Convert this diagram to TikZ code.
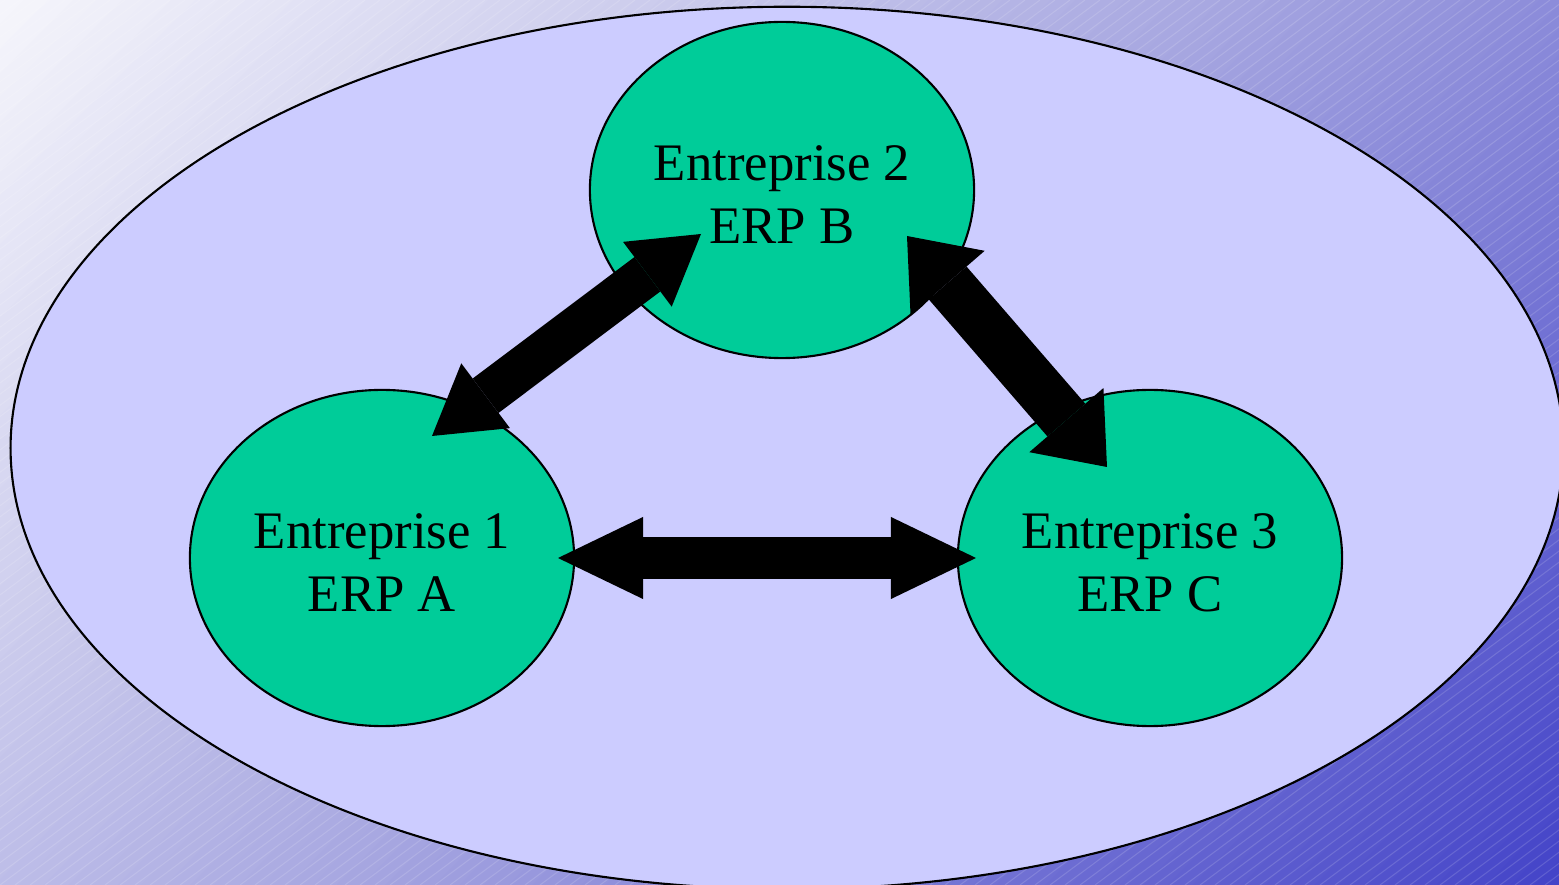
\documentclass[tikz,border=0pt]{standalone}
\usepackage{fontspec}
\setmainfont{Liberation Serif}
\usetikzlibrary{shapes.geometric, arrows.meta, calc}
\definecolor{lavender}{HTML}{CCCCFF}
\definecolor{erpgreen}{HTML}{00CC99}
\definecolor{bglight}{HTML}{F5F5FB}
\definecolor{bgmid}{HTML}{A6A6E0}
\definecolor{bgdark}{HTML}{4242C8}

\tikzset{
  firm/.style={ellipse, draw, line width=0.6pt, fill=erpgreen, minimum width=3.84cm, minimum height=3.36cm,
    inner sep=0pt, align=center, text height=30.7pt, font=\fontsize{15}{18}\selectfont},
  link/.style n args={3}{line width=#1,
    {Triangle[length=#2,width=#3,line width=0pt]}-{Triangle[length=#2,width=#3,line width=0pt]}}
}

\begin{document}
\begin{tikzpicture}[x=0.01cm, y=-0.01cm]
\useasboundingbox (0,0) rectangle (1559,885);
% background: 45 degree fade, then faint hatching
\begin{scope}
\clip (0,0) rectangle (1559,885);
\foreach \i [evaluate=\i as \s using \i*24.44, evaluate=\i as \pc using 2*\i] in {0,...,49}
  \fill[bgmid!\pc!bglight] (\s,0) -- ++(26,0) -- ++(-885,885) -- ++(-26,0) -- cycle;
\foreach \i [evaluate=\i as \s using \i*24.44, evaluate=\i as \pc using 2*\i-100] in {50,...,100}
  \fill[bgdark!\pc!bgmid] (\s,0) -- ++(26,0) -- ++(-885,885) -- ++(-26,0) -- cycle;
\foreach \k in {-1200,-1185,...,1560}
  \draw[white, opacity=0.14, line width=0.3pt] (\k,885) -- ++(1190,-885);
\end{scope}

\node[ellipse, draw, line width=0.6pt, fill=lavender, minimum width=15.52cm, minimum height=8.82cm] (Group) at (787,448) {};

\node[firm] (E2) at (782,190) {Entreprise 2\\ ERP B};
\node[firm] (E1) at (382,558) {Entreprise 1\\ ERP A};
\node[firm] (E3) at (1150,558) {Entreprise 3\\ ERP C};

\draw[link={0.43cm}{0.67cm}{0.81cm}] ($(E1.center)+(50,-122)$) -- ($(E2.center)+(-81,44)$);
\draw[link={0.5cm}{0.62cm}{0.98cm}] ($(E2.center)+(125,46)$) -- ($(E3.center)+(-43,-91)$);
\draw[link={0.42cm}{0.85cm}{0.82cm}] ($(E1.center)+(176,0)$) -- ($(E3.center)+(-174,0)$);

\end{tikzpicture}
\end{document}
